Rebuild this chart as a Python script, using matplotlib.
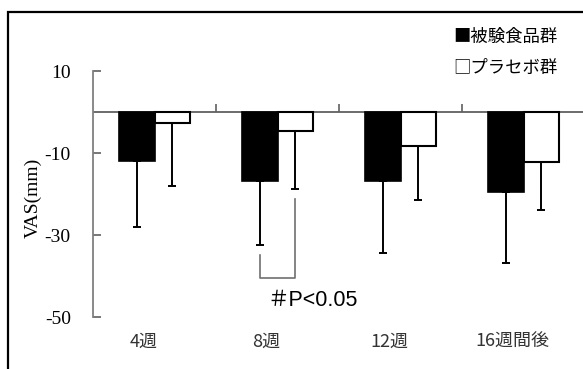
import numpy as np
import matplotlib.pyplot as plt
from matplotlib.patches import Rectangle
from matplotlib.transforms import blended_transform_factory

# values (VAS change, mm)
weeks = ["4週", "8週", "12週", "16週間後"]
test_mean = [-12.0, -16.8, -16.8, -19.6]
test_sd = [16.0, 15.6, 17.5, 17.3]
placebo_mean = [-2.8, -4.6, -8.3, -12.2]
placebo_sd = [15.2, 14.2, 13.1, 11.7]
yticks = [10, -10, -30, -50]
legend_labels = ["■被験食品群", "□プラセボ群"]
sig_text = "＃P<0.05"
sig_group = 1

SERIF = "Liberation Serif"
GOTHIC = ["Noto Sans CJK JP", "DejaVu Sans"]

fig = plt.figure(figsize=(5.83, 3.69), dpi=100)
fig.patch.set_facecolor("white")

# outer frame (cut off on the right and bottom in the original)
fig.patches.append(Rectangle((8 / 583, -0.1), 1.2, 1 - 12 / 369 + 0.1,
                             transform=fig.transFigure, fill=False,
                             edgecolor="black", linewidth=1.6))

ax = fig.add_axes([93 / 583, 52 / 369, 492 / 583, 246 / 369])
ax.set_facecolor("none")

x = np.arange(len(weeks))
w = 0.29

ax.bar(x - w / 2, test_mean, w, color="black", edgecolor="black", linewidth=1.2, zorder=3)
ax.bar(x + w / 2, placebo_mean, w, color="white", edgecolor="black", linewidth=1.5, zorder=3)

zeros = np.zeros(len(weeks))
ax.errorbar(x - w / 2, test_mean, yerr=[test_sd, zeros], fmt="none",
            ecolor="black", elinewidth=1.4, capsize=2.8, capthick=1.4, zorder=2)
ax.errorbar(x + w / 2, placebo_mean, yerr=[placebo_sd, zeros], fmt="none",
            ecolor="black", elinewidth=1.4, capsize=2.8, capthick=1.4, zorder=2)

ax.axhline(0, color="#606060", linewidth=1.3, zorder=1)

ax.set_xlim(-0.5, 3.5)
ax.set_ylim(-50, 10)

for s in ["top", "right"]:
    ax.spines[s].set_visible(False)
ax.spines["left"].set_color("#808080")
ax.spines["left"].set_linewidth(1.3)
ax.spines["bottom"].set_position(("data", 0))
ax.spines["bottom"].set_visible(False)

ax.set_yticks(yticks)
ax.set_yticklabels([str(v) for v in yticks], fontfamily=SERIF, fontsize=14)
ax.tick_params(axis="y", direction="in", length=6, width=1.2, color="#606060", pad=16)

ax.set_xticks(x[:-1] + 0.5)
ax.set_xticklabels([])
ax.tick_params(axis="x", direction="in", length=6, width=1.2, color="#606060")

# category labels below the plot
trans = blended_transform_factory(ax.transData, fig.transFigure)
for i, lab in enumerate(weeks):
    ax.text(x[i] - 0.09, 1 - 342 / 369, lab, transform=trans, ha="center", va="center",
            fontsize=13, family=GOTHIC, color="#333333")

fig.text(33 / 583, 1 - 198 / 369, "VAS(mm)", rotation=90, ha="center", va="center",
         fontfamily=SERIF, fontsize=14)

# significance bracket
xl = x[sig_group] - w / 2
xr = x[sig_group] + w / 2
yb = -40.5
ax.plot([xl, xl, xr, xr],
        [test_mean[sig_group] - test_sd[sig_group] - 2.5, yb, yb,
         placebo_mean[sig_group] - placebo_sd[sig_group] - 2.4],
        color="#707070", linewidth=1.2, zorder=2)
fig.text(313 / 583, 1 - 301 / 369, sig_text, ha="center", va="center",
         fontsize=15.5, family=["Liberation Sans", "Noto Sans CJK JP"], color="black")

# legend written as text, like the original
fig.text(453 / 583, 1 - 37 / 369, legend_labels[0], ha="left", va="center",
         fontsize=12.5, family=GOTHIC, color="black")
fig.text(453 / 583, 1 - 68 / 369, legend_labels[1], ha="left", va="center",
         fontsize=12.5, family=GOTHIC, color="black")

fig.savefig("out.png", dpi=100)
